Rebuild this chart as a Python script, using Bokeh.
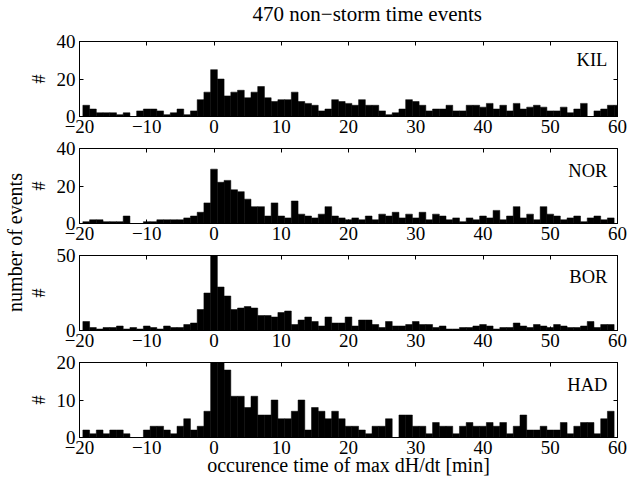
import math
from bokeh.plotting import figure
from bokeh.models import Range1d, FixedTicker, LinearAxis, Label, CustomLabelingPolicy
from bokeh.layouts import column, row
from bokeh.embed import file_html
from bokeh.resources import INLINE

# ---------------- data ----------------
centers = list(range(-20, 61))   # bin centres, minutes

kil = [0, 6, 4, 2, 2, 2, 1, 2, 0, 3, 4, 4, 3, 1, 2, 4, 1, 3, 9, 13,
       25, 20, 11, 13, 14, 10, 13, 16, 10, 8, 9, 9, 13, 8, 7, 6, 3, 4, 9, 8,
       7, 6, 9, 6, 6, 3, 1, 2, 4, 9, 8, 6, 3, 4, 4, 6, 3, 3, 6, 6,
       5, 7, 4, 6, 3, 7, 4, 5, 6, 5, 3, 3, 5, 2, 4, 7, 0, 3, 4, 6, 6]

nor = [0, 1, 2, 2, 1, 1, 1, 4, 0, 0, 1, 1, 2, 2, 2, 2, 3, 4, 6, 11,
       29, 22, 23, 18, 17, 13, 9, 9, 4, 11, 4, 3, 12, 5, 4, 3, 5, 9, 4, 3,
       2, 3, 2, 4, 2, 5, 4, 6, 3, 5, 3, 6, 2, 5, 4, 2, 3, 1, 3, 2,
       4, 3, 7, 2, 4, 9, 3, 5, 2, 9, 5, 4, 2, 3, 4, 1, 3, 4, 2, 3, 0]

bor = [0, 6, 2, 1, 2, 2, 3, 1, 2, 1, 3, 2, 1, 3, 2, 2, 4, 5, 14, 25,
       50, 29, 23, 14, 15, 16, 15, 10, 10, 9, 12, 13, 4, 7, 9, 6, 3, 9, 5, 5,
       9, 3, 7, 7, 4, 2, 6, 3, 3, 4, 6, 4, 4, 2, 3, 1, 1, 2, 2, 3,
       4, 3, 1, 2, 2, 5, 3, 2, 4, 3, 2, 4, 3, 2, 2, 3, 6, 2, 4, 4, 0]

had = [0, 2, 1, 2, 1, 2, 2, 1, 0, 0, 2, 3, 3, 2, 1, 3, 5, 2, 3, 7,
       20, 20, 18, 11, 11, 8, 11, 6, 6, 10, 5, 5, 7, 10, 2, 8, 7, 5, 7, 5,
       3, 3, 2, 1, 3, 3, 5, 0, 6, 6, 3, 3, 1, 4, 3, 3, 1, 3, 4, 3,
       3, 4, 3, 4, 1, 3, 6, 2, 2, 3, 2, 2, 4, 1, 3, 4, 4, 1, 5, 7, 0]

stations = ["KIL", "NOR", "BOR", "HAD"]
y_max = [40, 40, 50, 20]
y_ticks = [[0, 20, 40], [0, 20, 40], [0, 50], [0, 10, 20]]
x_ticks = [-20, -10, 0, 10, 20, 30, 40, 50, 60]

title_text = "470 non\u2212storm time events"
xlabel_text = "occurence time of max dH/dt [min]"
ylabel_text = "number of events"

FONT = "Liberation Serif"
FRAME_H = 75
FRAME_W = 540
LEFT_B = 52
RIGHT_B = 10
LAB_W = 25
TITLE_H = 30


def tick_only_axis(ticks):
    return LinearAxis(ticker=FixedTicker(ticks=ticks), major_tick_in=4, major_tick_out=0,
                      minor_tick_line_color=None, major_label_text_font_size="0px",
                      major_label_standoff=0, axis_line_color="black",
                      major_tick_line_color="black",
                      major_label_policy=CustomLabelingPolicy(code="return new Set()"))


def make_panel(counts, ymax, yticks, name, name_y, top_b, bot_b, shift, xlabel=None):
    h = top_b + FRAME_H + bot_b
    p = figure(width=LEFT_B + FRAME_W + RIGHT_B, height=h,
               x_range=Range1d(-20, 60), y_range=Range1d(0, ymax),
               output_backend="svg", toolbar_location=None,
               min_border_left=LEFT_B, min_border_right=RIGHT_B,
               min_border_top=top_b, min_border_bottom=bot_b)
    p.margin = (shift, 0, 0, 0)
    p.background_fill_color = "white"
    p.border_fill_color = None
    p.outline_line_color = "black"
    p.outline_line_width = 1
    p.xgrid.visible = False
    p.ygrid.visible = False

    p.vbar(x=centers, width=1, top=counts, bottom=0,
           fill_color="black", line_color="black", line_width=0.5)

    xa = p.below[0]
    xa.ticker = FixedTicker(ticks=x_ticks)
    xa.major_label_overrides = {t: str(t).replace("-", "\u2212") for t in x_ticks}
    xa.major_tick_in = 4
    xa.major_tick_out = 0
    xa.minor_tick_line_color = None
    xa.major_label_standoff = 3
    xa.major_label_text_font = FONT
    xa.major_label_text_font_size = "19px"
    xa.major_label_text_color = "black"
    xa.axis_line_color = "black"
    xa.major_tick_line_color = "black"
    if xlabel:
        xa.axis_label = xlabel
        xa.axis_label_text_font = FONT
        xa.axis_label_text_font_style = "normal"
        xa.axis_label_text_font_size = "20px"
        xa.axis_label_standoff = -3
        xa.axis_label_text_color = "black"

    ya = p.left[0]
    ya.ticker = FixedTicker(ticks=yticks)
    ya.major_tick_in = 4
    ya.major_tick_out = 0
    ya.minor_tick_line_color = None
    ya.major_label_standoff = 4
    ya.major_label_text_font = FONT
    ya.major_label_text_font_size = "19px"
    ya.major_label_text_color = "black"
    ya.axis_line_color = "black"
    ya.major_tick_line_color = "black"
    ya.axis_label = "#"
    ya.axis_label_text_font = FONT
    ya.axis_label_text_font_style = "normal"
    ya.axis_label_text_font_size = "18px"
    ya.axis_label_standoff = 5
    ya.axis_label_text_color = "black"

    p.add_layout(tick_only_axis(x_ticks), "above")
    p.add_layout(tick_only_axis(yticks), "right")

    p.add_layout(Label(x=58.5, y=name_y, text=name, text_align="right",
                       text_baseline="middle", text_font=FONT,
                       text_font_size="18.5px", text_color="black"))
    return p


# title strip
PANEL_W = LEFT_B + FRAME_W + RIGHT_B
tfig = figure(width=PANEL_W, height=TITLE_H, x_range=Range1d(0, PANEL_W),
              y_range=Range1d(0, TITLE_H), x_axis_type=None, y_axis_type=None,
              output_backend="svg", toolbar_location=None, min_border=0)
tfig.outline_line_color = None
tfig.border_fill_color = None
tfig.background_fill_color = None
tfig.xgrid.visible = False
tfig.ygrid.visible = False
tfig.add_layout(Label(x=LEFT_B + FRAME_W / 2, y=TITLE_H - 13, text=title_text,
                      text_align="center", text_baseline="middle", text_font=FONT,
                      text_font_size="21px", text_color="black"))

p1 = make_panel(kil, y_max[0], y_ticks[0], stations[0], 30, 11, 30, 0)
p2 = make_panel(nor, y_max[1], y_ticks[1], stations[1], 28, 20, 30, -18)
p3 = make_panel(bor, y_max[2], y_ticks[2], stations[2], 35.5, 20, 30, -18)
p4 = make_panel(had, y_max[3], y_ticks[3], stations[3], 14, 20, 50, -18, xlabel=xlabel_text)

total_h = TITLE_H + p1.height + (p2.height - 18) + (p3.height - 18) + (p4.height - 18)

lab = figure(width=LAB_W, height=total_h, x_range=Range1d(0, LAB_W), y_range=Range1d(0, total_h),
             x_axis_type=None, y_axis_type=None, output_backend="svg",
             toolbar_location=None, min_border=0)
lab.outline_line_color = None
lab.border_fill_color = None
lab.xgrid.visible = False
lab.ygrid.visible = False
lab.add_layout(Label(x=14, y=total_h - 242, text=ylabel_text, angle=math.pi / 2,
                     text_align="center", text_baseline="middle", text_font=FONT,
                     text_font_size="20px", text_color="black"))

layout = row(lab, column(tfig, p1, p2, p3, p4))

open("out.html", "w").write(file_html(layout, INLINE))
